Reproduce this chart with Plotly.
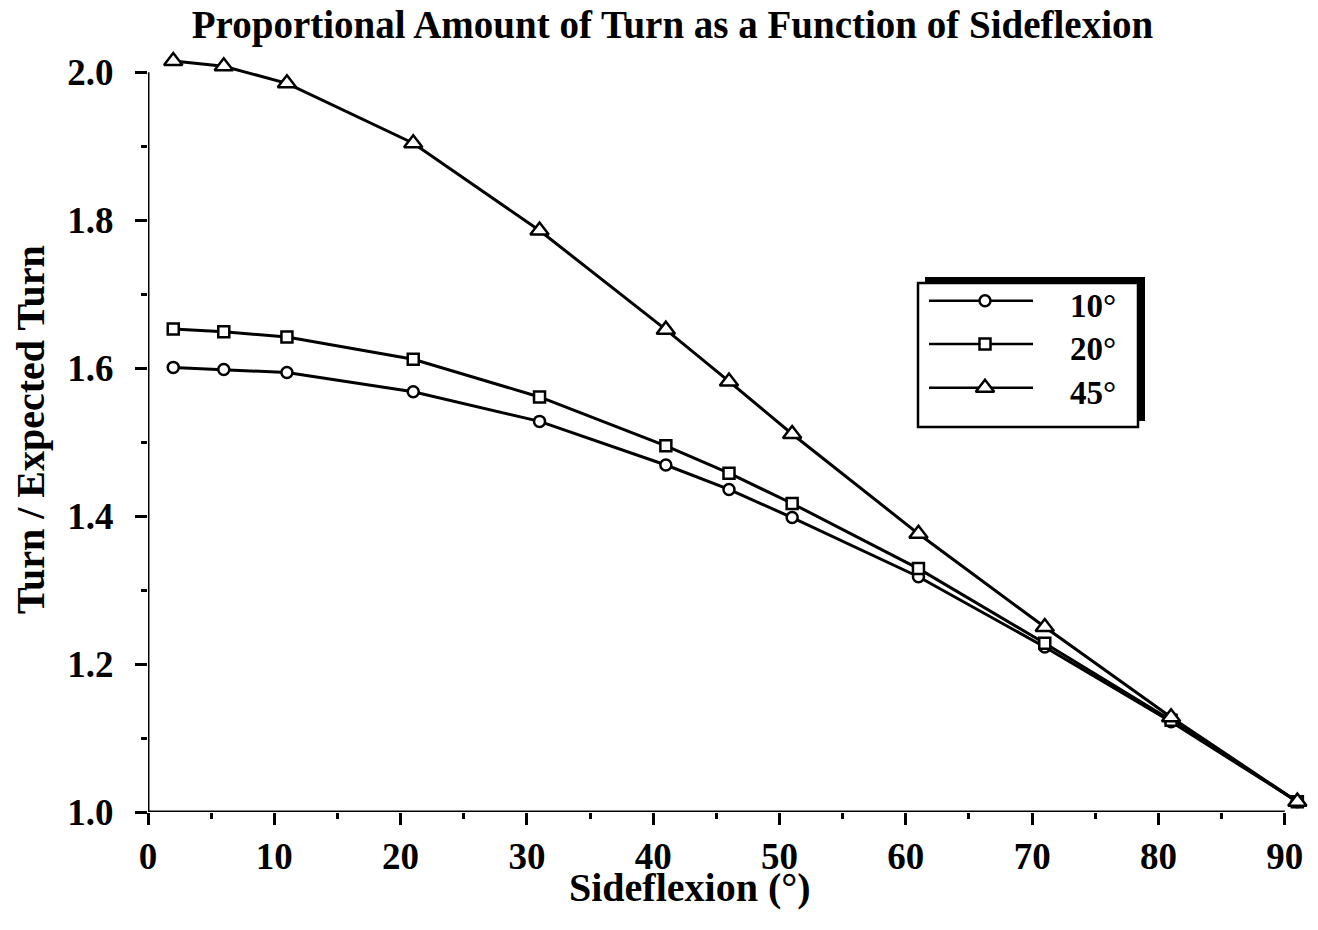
import plotly.graph_objects as go

# ---------------- data ----------------
sideflexion = [2, 6, 11, 21, 31, 41, 46, 51, 61, 71, 81, 91]
turn_10 = [1.601, 1.598, 1.594, 1.568, 1.528, 1.469, 1.436, 1.398, 1.318, 1.223, 1.122, 1.014]
turn_20 = [1.653, 1.649, 1.642, 1.612, 1.561, 1.495, 1.458, 1.417, 1.329, 1.228, 1.124, 1.014]
turn_45 = [2.015, 2.008, 1.985, 1.904, 1.786, 1.652, 1.582, 1.511, 1.376, 1.250, 1.128, 1.014]
series_names = ["10°", "20°", "45°"]

x_ticks = [0, 10, 20, 30, 40, 50, 60, 70, 80, 90]
x_minor = [5, 15, 25, 35, 45, 55, 65, 75, 85]
y_ticks = [1.0, 1.2, 1.4, 1.6, 1.8, 2.0]
y_tick_labels = ["1.0", "1.2", "1.4", "1.6", "1.8", "2.0"]
y_minor = [1.1, 1.3, 1.5, 1.7, 1.9]

title_text = "Proportional Amount of Turn as a Function of Sideflexion"
x_title = "Sideflexion (°)"
y_title = "Turn / Expected Turn"

# ---------------- layout constants ----------------
OFF = 8                      # default page body margin
W, H = 1302, 914             # figure size (fits the 1318x930 window)
ML, MR, MT, MB = 140, 0, 42, 110
FONT = "Liberation Serif"
BLACK = "black"

symbols = ["circle", "square", "triangle-up"]
sizes = [11, 11, 16]
series = [turn_10, turn_20, turn_45]


def pxp(x):
    """page pixel x -> paper fraction"""
    return (x - OFF - ML) / (W - ML - MR)


def pyp(y):
    """page pixel y -> paper fraction"""
    return (H - MB - (y - OFF)) / (H - MT - MB)


def bold(size):
    return dict(family=FONT, size=size, color=BLACK, weight="bold")


fig = go.Figure()

for name, ys, sym, sz in zip(series_names, series, symbols, sizes):
    fig.add_trace(go.Scatter(
        x=sideflexion, y=ys, mode="lines+markers", name=name,
        line=dict(color=BLACK, width=3),
        marker=dict(symbol=sym, size=sz, color="white",
                    line=dict(color=BLACK, width=2.5)),
        cliponaxis=False, showlegend=False,
    ))

# ---------------- custom legend (pixel overlay axes) ----------------
leg_line_y = [300.7, 344, 387.7]
leg_text_y = [306, 349, 393]
for name, sym, sz, ly, ty in zip(series_names, symbols, sizes, leg_line_y, leg_text_y):
    fig.add_trace(go.Scatter(
        x=[929, 1033], y=[ly, ly], mode="lines", xaxis="x2", yaxis="y2",
        line=dict(color=BLACK, width=2.5), showlegend=False, hoverinfo="skip",
    ))
    fig.add_trace(go.Scatter(
        x=[985], y=[ly], mode="markers", xaxis="x2", yaxis="y2",
        marker=dict(symbol=sym, size=sz, color="white",
                    line=dict(color=BLACK, width=2.5)),
        showlegend=False, hoverinfo="skip", cliponaxis=False,
    ))
    fig.add_annotation(
        x=pxp(1068), y=pyp(ty), xref="paper", yref="paper",
        text=name, showarrow=False, xanchor="left", yanchor="middle",
        font=bold(33),
    )

shapes = [
    # legend shadow
    dict(type="rect", xref="paper", yref="paper",
         x0=pxp(925), x1=pxp(1145), y0=pyp(277), y1=pyp(421),
         fillcolor=BLACK, line=dict(width=0), layer="below"),
    # legend box
    dict(type="rect", xref="paper", yref="paper",
         x0=pxp(918), x1=pxp(1138), y0=pyp(283), y1=pyp(427),
         fillcolor="white", line=dict(color=BLACK, width=2.5), layer="below"),
    # axis lines
    dict(type="line", xref="x", yref="y", x0=0, x1=90, y0=1.0, y1=1.0,
         line=dict(color=BLACK, width=3), layer="above"),
    dict(type="line", xref="x", yref="y", x0=0, x1=0, y0=1.0, y1=2.0,
         line=dict(color=BLACK, width=3), layer="above"),
]

# axis titles
fig.add_annotation(x=pxp(689.5), y=pyp(887), xref="paper", yref="paper",
                   text=x_title, showarrow=False, xanchor="center",
                   yanchor="middle", font=bold(40))
fig.add_annotation(x=pxp(30), y=pyp(430), xref="paper", yref="paper",
                   text=y_title, showarrow=False, xanchor="center",
                   yanchor="middle", textangle=-90, font=bold(40))

fig.update_layout(
    width=W, height=H,
    margin=dict(l=ML, r=MR, t=MT, b=MB, autoexpand=False),
    paper_bgcolor="white", plot_bgcolor="white",
    font=dict(family=FONT, color=BLACK),
    showlegend=False,
    shapes=shapes,
    title=dict(text=title_text, x=(672.5 - OFF) / W, y=1 - (24 - OFF) / H,
               xref="container", yref="container",
               xanchor="center", yanchor="middle", font=bold(39)),
    xaxis=dict(
        range=[0, 92], showline=False, showgrid=False, zeroline=False,
        tickmode="array", tickvals=x_ticks, ticks="outside",
        ticklen=12, tickwidth=3, tickcolor=BLACK,
        tickfont=bold(37), ticklabelstandoff=0,
        minor=dict(tickmode="array", tickvals=x_minor, ticks="outside",
                   ticklen=6, tickwidth=3, tickcolor=BLACK, showgrid=False),
        fixedrange=True,
    ),
    yaxis=dict(
        range=[1.0, 2.03], showline=False, showgrid=False, zeroline=False,
        tickmode="array", tickvals=y_ticks, ticktext=y_tick_labels,
        ticks="outside", ticklen=12, tickwidth=3, tickcolor=BLACK,
        tickfont=bold(37), ticklabelstandoff=14,
        minor=dict(tickmode="array", tickvals=y_minor, ticks="outside",
                   ticklen=6, tickwidth=3, tickcolor=BLACK, showgrid=False),
        fixedrange=True,
    ),
    xaxis2=dict(range=[ML + OFF, W - MR + OFF], overlaying="x", visible=False,
                fixedrange=True),
    yaxis2=dict(range=[H - MB + OFF, MT + OFF], overlaying="y", visible=False,
                fixedrange=True),
)

fig.write_html("out.html")
